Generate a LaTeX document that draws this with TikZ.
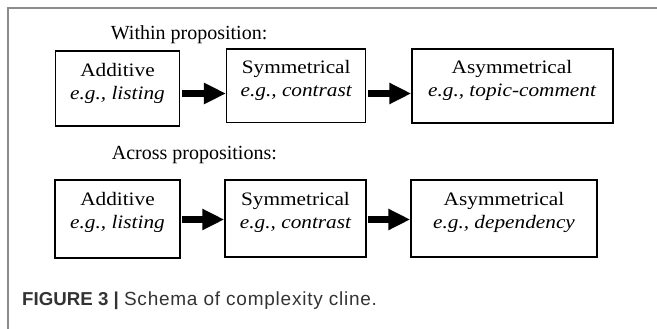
\documentclass[tikz,border=0pt]{standalone}
\usepackage{fontspec}
\setmainfont{Liberation Serif}
\newfontfamily\boxfont[FakeStretch=1.12]{Liberation Serif}
\newfontfamily\capfont{Liberation Sans}
\newfontfamily\capfontwide[LetterSpace=4]{Liberation Sans}
\usetikzlibrary{arrows.meta}
\definecolor{framegray}{HTML}{8C8C8C}
\definecolor{capgray}{HTML}{333333}
\begin{document}
\begin{tikzpicture}[x=1pt,y=-1pt,
  boxst/.style={draw=black, line width=1.5pt, inner sep=0pt, rectangle},
  btext/.style={anchor=base, inner sep=0pt, font=\boxfont\fontsize{19}{22}\selectfont},
  itext/.style={btext, font=\boxfont\fontsize{19}{22}\selectfont\itshape},
  headtext/.style={anchor=base west, inner sep=0pt, font=\fontsize{20}{24}\selectfont},
  arr/.style={line width=7pt, -{Triangle[length=22pt,width=20pt]}}]
\useasboundingbox (0,0) rectangle (657,329);
% frame
\draw[framegray, line width=1.3pt] (8,329) -- (8,8) -- (657,8);
% headings
\node[headtext] (h1) at (110.7,40) {Within proposition:};
\node[headtext] (h2) at (111.7,160) {Across propositions:};
% top row boxes
\node[boxst, minimum width=123.6pt, minimum height=75pt] (a1) at (117.5,88.5) {};
\node[boxst, minimum width=139pt, minimum height=73.7pt] (a2) at (296.2,85.9) {};
\node[boxst, minimum width=201pt, minimum height=74pt] (a3) at (512.5,86) {};
\node[btext] (a1t) at (117.5,76.7) {Additive};
\node[itext] (a1e) at (117.5,100) {e.g., listing};
\node[btext] (a2t) at (296.2,74) {Symmetrical};
\node[itext] (a2e) at (296.2,96.7) {e.g., contrast};
\node[btext] (a3t) at (512,73.3) {Asymmetrical};
\node[itext] (a3e) at (512,96.7) {e.g., topic-comment};
% bottom row boxes
\node[boxst, minimum width=125pt, minimum height=78pt] (b1) at (117.5,219) {};
\node[boxst, minimum width=141pt, minimum height=77pt] (b2) at (295.5,218.5) {};
\node[boxst, minimum width=186pt, minimum height=77pt] (b3) at (504,218.5) {};
\node[btext] (b1t) at (117.5,205) {Additive};
\node[itext] (b1e) at (117.5,228.3) {e.g., listing};
\node[btext] (b2t) at (295.5,205) {Symmetrical};
\node[itext] (b2e) at (295.5,228.3) {e.g., contrast};
\node[btext] (b3t) at (504,205) {Asymmetrical};
\node[itext] (b3e) at (504,228.3) {e.g., dependency};
% arrows
\coordinate (r1) at (0,93.5);
\coordinate (r2) at (0,219.5);
\draw[arr, shorten <=2pt] (a1.east |- r1) -- (a2.west |- r1);
\draw[arr, shorten <=2pt] (a2.east |- r1) -- (a3.west |- r1);
\draw[arr, shorten <=1pt] (b1.east |- r2) -- (b2.west |- r2);
\draw[arr, shorten <=1pt] (b2.east |- r2) -- (b3.west |- r2);
% caption
\node[anchor=base west, inner sep=0pt, text=capgray, font=\capfont\fontsize{18.7}{22}\selectfont] (cap) at (22,305) {\textbf{FIGURE 3 |} {\capfontwide\fontsize{19}{22}\selectfont Schema of complexity cline.}};
\end{tikzpicture}
\end{document}
